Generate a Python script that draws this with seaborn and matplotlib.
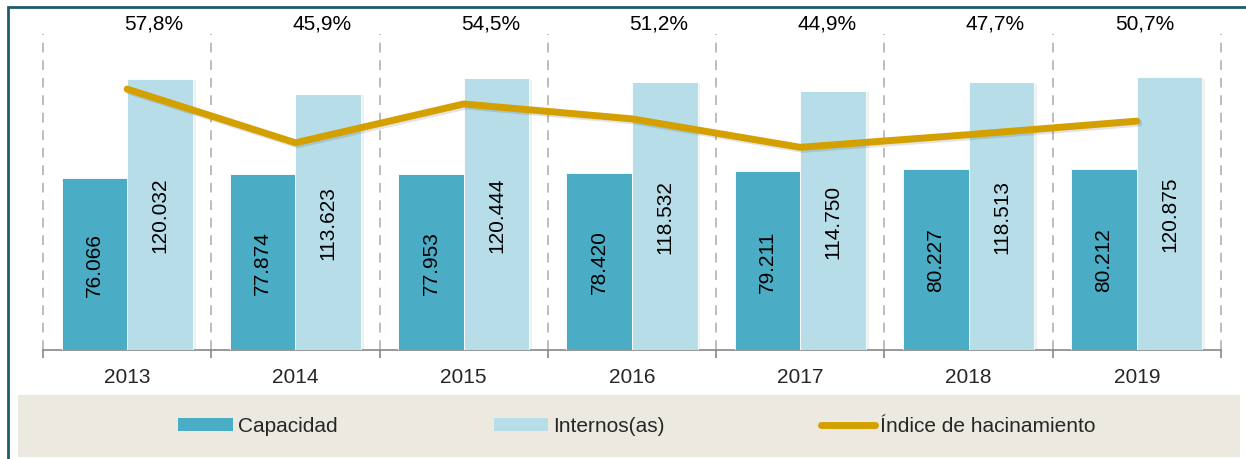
import numpy as np
import pandas as pd
import matplotlib
matplotlib.use("Agg")
import matplotlib.pyplot as plt
import matplotlib.patheffects as pe
from matplotlib.patches import Rectangle
from matplotlib.lines import Line2D
from matplotlib.patches import Patch
import seaborn as sns

years = ["2013", "2014", "2015", "2016", "2017", "2018", "2019"]
capacidad = [76066, 77874, 77953, 78420, 79211, 80227, 80212]
internos = [120032, 113623, 120444, 118532, 114750, 118513, 120875]
indice = [57.8, 45.9, 54.5, 51.2, 44.9, 47.7, 50.7]

c_cap = "#4BACC6"
c_int = "#B7DEE8"
c_line = "#D4A000"

sns.set_theme(style="white")
plt.rcParams["font.family"] = ["Liberation Sans", "DejaVu Sans"]
plt.rcParams["font.size"] = 15

df = pd.DataFrame({
    "year": years * 2,
    "value": capacidad + internos,
    "serie": ["Capacidad"] * len(years) + ["Internos(as)"] * len(years),
})

fig = plt.figure(figsize=(12.46, 4.6), dpi=100)
W, H = 1246, 460

# outer frame and legend background
fig.patches.append(Rectangle((8 / W, -0.1), 1.2, 1 - 8 / H + 0.1, transform=fig.transFigure,
                             facecolor="none", edgecolor="#1F5C6B", linewidth=2, zorder=0))
fig.patches.append(Rectangle((18 / W, 2 / H), 1222 / W, 62 / H, transform=fig.transFigure,
                             facecolor="#ECEAE0", edgecolor="none", zorder=0))

ax = fig.add_axes([43 / W, 1 - 351 / H, 1178 / W, 316 / H])
sns.barplot(data=df, x="year", y="value", hue="serie", palette=[c_cap, c_int],
            width=0.78, gap=0, saturation=1, edgecolor="white", linewidth=0.6, ax=ax,
            legend=False, zorder=3)
for p in ax.patches:
    p.set_path_effects([pe.SimplePatchShadow(offset=(2, -1), alpha=0.08), pe.Normal()])

for cont in ax.containers:
    ax.bar_label(cont, labels=[f"{v:,.0f}".replace(",", ".") for v in cont.datavalues],
                 label_type="center", rotation=90, fontsize=15, color="black")

ax.set_xlim(-0.5, 6.5)
ax.set_ylim(0, 140000)
ax.set_yticks([])
ax.set_xlabel("")
ax.set_ylabel("")
ax.set_xticks(np.arange(len(years)))
ax.set_xticklabels(years)
ax.set_xticks(np.arange(-0.5, len(years)), minor=True)
ax.tick_params(axis="x", which="major", bottom=True, length=0, pad=12, labelsize=15)
ax.tick_params(axis="x", which="minor", bottom=True, length=6, width=1.2,
               color="#888888", direction="out")
ax.grid(axis="x", which="minor", linestyle=(0, (5, 4)), color="#BDBDBD", linewidth=1.4)
for t in ax.xaxis.get_minor_ticks():
    t.gridline.set_clip_on(False)
ax.set_axisbelow(True)
for s in ["top", "left", "right"]:
    ax.spines[s].set_visible(False)
ax.spines["bottom"].set_color("#888888")
ax.spines["bottom"].set_linewidth(1.2)

ax2 = ax.twinx()
sns.lineplot(x=np.arange(len(years)), y=indice, color=c_line, linewidth=5,
             ax=ax2, solid_capstyle="round",
             path_effects=[pe.SimpleLineShadow(offset=(1.5, -1.5), alpha=0.12), pe.Normal()])
ax2.set_ylim(0, 70)
ax2.set_xlim(-0.5, 6.5)
ax2.axis("off")

for i, v in enumerate(indice):
    off = 0.05 if i == len(years) - 1 else 0.16
    ax2.text(i + off, 72.5, f"{v:.1f}%".replace(".", ","), ha="center", va="center",
             fontsize=15, color="black", clip_on=False)

handles = [Patch(facecolor=c_cap, edgecolor="none"),
           Patch(facecolor=c_int, edgecolor="none"),
           Line2D([0], [0], color=c_line, linewidth=5, solid_capstyle="round")]
fig.legend(handles, ["Capacidad", "Internos(as)", "Índice de hacinamiento"],
           loc="center", bbox_to_anchor=(637 / W, 1 - 427 / H), ncol=3, frameon=False,
           handlelength=2.6, handleheight=0.6, handletextpad=0.25, columnspacing=7.5,
           fontsize=15)

fig.savefig("out.png", dpi=100)
